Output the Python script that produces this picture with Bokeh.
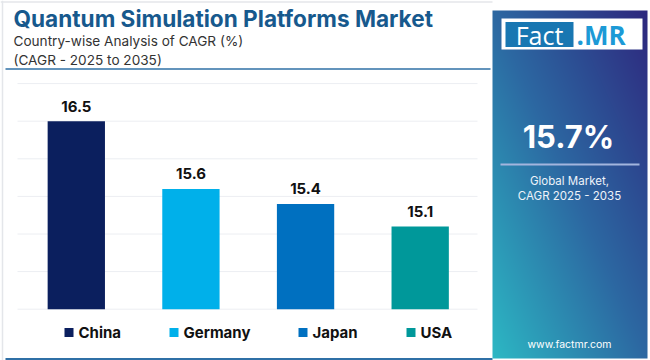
import numpy as np
from bokeh.plotting import figure
from bokeh.models import Range1d
from bokeh.core.properties import value
from bokeh.embed import file_html
from bokeh.resources import INLINE

# ---------------- data ----------------
title = "Quantum Simulation Platforms Market"
subtitle1 = "Country-wise Analysis of CAGR (%)"
subtitle2 = "(CAGR - 2025 to 2035)"
countries = ["China", "Germany", "Japan", "USA"]
cagr = [16.5, 15.6, 15.4, 15.1]
bar_colors = ["#0b1f5e", "#00b0ea", "#0070c0", "#00989a"]
grid_values = [14.0, 14.5, 15.0, 15.5, 16.0, 16.5, 17.0]
axis_base = 14.0
global_cagr = "15.7%"
panel_lines = ["Global Market,", "CAGR 2025 - 2035"]
website = "www.factmr.com"

# ---------------- styles / layout ----------------
FONT = "Inter"
positions = list(range(len(countries)))
legend_marker_x = [68.5, 173.5, 302.5, 410.5]
PW, PH = 650, 360


def Y(y):
    """page-pixel y (top-down) -> bottom-up pixel range value"""
    return PH - y


p = figure(width=PW, height=PH, output_backend="svg", toolbar_location=None,
           x_range=Range1d(-0.6613, 5.0092), y_range=Range1d(13.3178, 18.1051),
           x_axis_location=None, y_axis_location=None,
           min_border=0, outline_line_color=None,
           background_fill_color="white", border_fill_color="white")
p.grid.visible = False
p.extra_x_ranges = {"px": Range1d(0, PW)}
p.extra_y_ranges = {"py": Range1d(0, PH)}
PX = dict(x_range_name="px", y_range_name="py")

# ---- frame borders ----
p.segment(x0=[2, 0], y0=[Y(0), Y(1.5)], x1=[2, 492], y1=[Y(360), Y(1.5)],
          line_color="#e4e6ea", line_width=1.5, **PX)

# ---- title block ----
p.text(x=[13], y=[Y(18)], text=[title], text_font=value(FONT), text_font_size="22.6px",
       text_font_style="bold", text_color="#17598d", text_baseline="middle", **PX)
p.text(x=[13], y=[Y(40)], text=[subtitle1], text_font=value(FONT), text_font_size="13.6px",
       text_color="#333333", text_baseline="middle", **PX)
p.text(x=[13], y=[Y(59)], text=[subtitle2], text_font=value(FONT), text_font_size="13.6px",
       text_color="#333333", text_baseline="middle", **PX)
p.segment(x0=[5], y0=[Y(68.5)], x1=[490], y1=[Y(68.5)], line_color="#2f70a6",
          line_width=1.5, **PX)

# ---- gridlines ----
p.segment(x0=[17] * len(grid_values), x1=[477] * len(grid_values),
          y0=grid_values, y1=grid_values, line_color="#eceef2", line_width=1,
          x_range_name="px")

# ---- bars ----
p.vbar(x=positions, top=cagr, bottom=axis_base, width=0.5, fill_color=bar_colors,
       line_color=None)
p.text(x=positions, y=cagr, text=[f"{v:.1f}" for v in cagr], text_font=value(FONT),
       text_font_size="15px", text_font_style="bold", text_color="#111111",
       text_align="center", text_baseline="middle", y_offset=-15)

# ---- legend ----
p.scatter(x=legend_marker_x, y=[Y(332)] * len(countries), marker="square", size=9,
          fill_color=bar_colors, line_color=None, **PX)
p.text(x=[lx + 9.5 for lx in legend_marker_x], y=[Y(332)] * len(countries), text=countries,
       text_font=value(FONT), text_font_size="15px", text_font_style="bold",
       text_color="#111111", text_baseline="middle", **PX)

# bottom rule
p.segment(x0=[5], y0=[Y(358.5)], x1=[492], y1=[Y(358.5)], line_color="#2f70a6",
          line_width=2, **PX)

# ---- right panel (gradient) ----
W, H = 155, 348
u = np.linspace(0, 1, W)[None, :]
v = np.linspace(0, 1, H)[:, None]
t = np.clip((u + v) / 2, 0, 1)
c0 = np.array([44, 184, 196])
c1 = np.array([44, 104, 162])
c2 = np.array([46, 40, 126])
t3 = t[..., None]
col = np.where(t3 < 0.5, c0 + (c1 - c0) * (t3 / 0.5), c1 + (c2 - c1) * ((t3 - 0.5) / 0.5))
img = np.empty((H, W), dtype=np.uint32)
view = img.view(dtype=np.uint8).reshape((H, W, 4))
view[..., 0] = col[..., 0].astype(np.uint8)
view[..., 1] = col[..., 1].astype(np.uint8)
view[..., 2] = col[..., 2].astype(np.uint8)
view[..., 3] = 255
p.image_rgba(image=[img], x=492, y=Y(358), dw=155, dh=348, **PX)

# logo
p.quad(left=[501], right=[642], top=[Y(18)], bottom=[Y(49)], fill_color="white",
       line_color=None, **PX)
p.quad(left=[505], right=[573], top=[Y(21.5)], bottom=[Y(46.5)], fill_color="#1877b2",
       line_color=None, **PX)
p.text(x=[539], y=[Y(34)], text=["Fact"], text_font=value("Open Sans"), text_font_size="25px",
       text_color="white", text_align="center", text_baseline="middle", **PX)
p.text(x=[576], y=[Y(34)], text=[".MR"], text_font=value("Open Sans"), text_font_size="26px",
       text_font_style="bold", text_color="#1c9ad6", text_baseline="middle", **PX)

p.text(x=[568], y=[Y(136)], text=[global_cagr], text_font=value(FONT), text_font_size="31px",
       text_font_style="bold", text_color="white", text_align="center",
       text_baseline="middle", **PX)
p.segment(x0=[500], y0=[Y(164)], x1=[639], y1=[Y(164)], line_color="#a3b5de",
          line_width=2, **PX)
p.text(x=[569, 569], y=[Y(180), Y(195)], text=panel_lines, text_font=value(FONT),
       text_font_size="11.5px", text_color="#eef3fa", text_align="center",
       text_baseline="middle", **PX)
p.text(x=[569], y=[Y(344)], text=[website], text_font=value(FONT), text_font_size="10.5px",
       text_color="white", text_align="center", text_baseline="middle", **PX)

open("out.html", "w").write(file_html(p, INLINE))
